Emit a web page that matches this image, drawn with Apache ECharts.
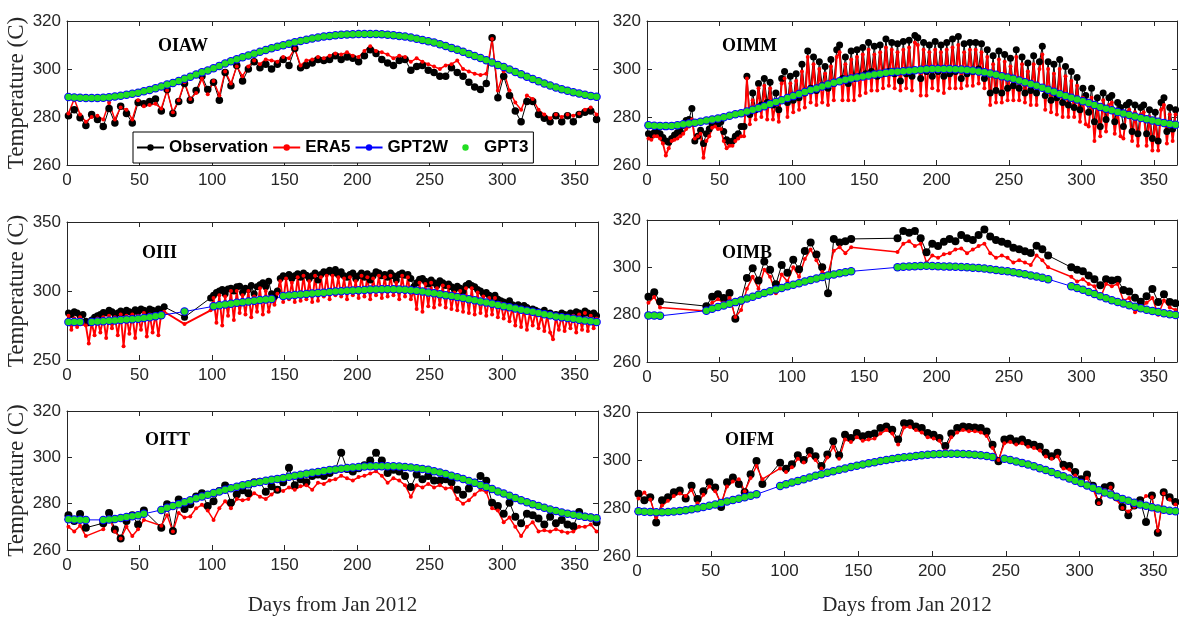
<!DOCTYPE html>
<html><head><meta charset="utf-8">
<script src="https://cdn.jsdelivr.net/npm/echarts@6/dist/echarts.min.js"></script>
<style>html,body{margin:0;padding:0;background:#fff}#c{width:1179px;height:619px}</style>
</head><body><div id="c"></div><script>
// ---- day grids (x values) ----
const days4 = []; for (let d = 1; d <= 365; d += 4) days4.push(d);
const days2 = []; for (let d = 1; d <= 365; d += 2) days2.push(d);
const xTickLabels = [0, 50, 100, 150, 200, 250, 300, 350];
const panelNames = ['OIAW', 'OIMM', 'OIII', 'OIMB', 'OITT', 'OIFM'];
const seriesNames = ['Observation', 'ERA5', 'GPT2W', 'GPT3'];

// ---- OIAW (days4) ----
const oiawObs = [
280.5,283,279.7,276.5,281,279,276,283.5,277.5,284.5,
281.5,277.5,286,285.5,286.5,287.5,282.5,291.5,281.5,286.5,
294,287,291,297,291.5,294.5,287,298.5,293,301.5,
295,300,303,300.5,302,300,302,304,301.5,308.5,
300.5,301.5,302.5,304,303.5,304,305.5,304,305,304.5,
303,305.5,308,306.5,304,302.5,301.5,303.5,304,299.5,
301,301.5,299.5,298.5,297,297,300.5,298.5,297,294.5,
292.5,291.5,294,313,288,297,289,282.5,278,286.5,
286.5,281,279.5,278,280.5,278,280.5,278,281,282,
282.5,279];
const oiawEra5 = [
281.5,287.5,281,278,280,280.5,279,286,279,284,
283,279,287,284.5,285,285.5,283.5,291,282,287,
294.5,287.5,290,296,289.5,295,289,299,294,301,
297,301,303.5,302,304,303.5,303,305,304.5,308.5,
301.5,303.5,304,305,304.5,305.5,306.5,306,307,305.5,
305,307.5,309.5,307.5,307,306,304.5,305.5,305,303,
304.5,303,302,301,300,301.5,302,303.5,300,299,
298,297.5,298,312.5,291,299,291,286,283,289,
287.5,283,281,279.5,281,280,281,280.5,281.5,283,
284,281];
const oiawGpt2w = [
288.3,288.1,288.0,287.9,287.9,287.9,288.0,288.2,288.5,288.9,
289.3,289.7,290.1,290.7,291.3,292.0,292.7,293.5,294.2,295.0,
295.9,296.8,297.7,298.6,299.4,300.3,301.3,302.3,303.2,304.1,
304.9,305.6,306.4,307.2,307.9,308.6,309.3,309.9,310.5,311.1,
311.7,312.2,312.7,313.1,313.5,313.8,314.1,314.3,314.4,314.5,
314.6,314.6,314.6,314.6,314.5,314.3,314.1,313.8,313.5,313.1,
312.6,312.1,311.6,311.0,310.3,309.6,308.8,308.0,307.2,306.3,
305.4,304.6,303.6,302.7,301.7,300.8,299.8,298.8,297.8,296.8,
295.8,294.9,294.0,293.1,292.3,291.6,290.9,290.3,289.8,289.3,
288.8,288.4];
const oiawGpt3 = [
288.3,288.1,288.0,287.9,287.9,287.9,288.0,288.2,288.5,288.9,
289.3,289.7,290.1,290.7,291.3,292.0,292.7,293.5,294.2,295.0,
295.9,296.8,297.7,298.6,299.4,300.3,301.3,302.3,303.2,304.1,
304.9,305.6,306.4,307.2,307.9,308.6,309.3,309.9,310.5,311.1,
311.7,312.2,312.7,313.1,313.5,313.8,314.1,314.3,314.4,314.5,
314.6,314.6,314.6,314.6,314.5,314.3,314.1,313.8,313.5,313.1,
312.6,312.1,311.6,311.0,310.3,309.6,308.8,308.0,307.2,306.3,
305.4,304.6,303.6,302.7,301.7,300.8,299.8,298.8,297.8,296.8,
295.8,294.9,294.0,293.1,292.3,291.6,290.9,290.3,289.8,289.3,
288.8,288.4];

// ---- OIMM (obs/era5 on days2, gpt on days4) ----
const oimmObs = [
273,272.5,273.5,274,273,271.5,270,269.5,271,272.5,
273.5,274,276.5,278.5,279,283.5,270,272,274.5,269,
273,275,277,278.5,277,278,274,270.5,269.5,270,
272,273,276,276,297,281,290,283,294,285,
296,286,294.5,285,290,283,296,299,286,297,
287,298,288,302,290,307.5,292,305,291,303,
293,301,292,304,294,308,310,296,305,294,
307.5,296,308,297,309,298,311,299,309.5,297,
310,298,312.5,299,311,298,310.5,295,311.5,298,
312,297,314,313,296,311,299,310,297,311.5,
299,310,297,311,298,312.5,299,313.5,296,310.5,
298,311,299,311,300,310.5,296,308,290,305.5,
291,307.5,290,306,292,304.5,293,308,292,305,
290,302.5,291,305.5,290,303,309.5,289,303,287,
302,288,304,286,301,285,299,284,296.5,283,
292,289,282,292,278,288,276,290,279,288,
289,278,286,284,276,285,286,274,285,273,
284,285,273,283,271,282,270,286,288,274,
284,275,283];
const oimmEra5 = [
271,270.5,272,272,271,269,264,267,270,270.5,
271,272,273,275,276,279,271,272,273,263,
270,272,275.5,276,275,275,270,267,268,268,
270,271,272,272,296,277,287,279,292,280,
293,279,292,279,287,278,294,296,280,294,
282,295,283,299,284,305,286,302,285,300,
286,298,285,301,287,305,307,287,302,287,
304,287,305,289,306,290,308,291,306,291,
307,292,309,293,308,292,307,291,308,292,
309,291,311,310,289,308,289,307,292,308,
291,307,290,308,292,309,292,310,292,307,
293,308,293,308,294,307,292,305,285,302,
286,304,286,303,287,301,287,305,287,302,
286,299,285,302,285,300,306,283,300,282,
298,281,300,280,297,280,295,280,293,278,
288,277,276,288,270,285,272,287,274,285,
286,273,283,272,271,282,283,270,282,268,
281,282,268,280,266,279,266,283,285,269,
281,270,281];
const oimmGpt2w = [
276.6,276.4,276.3,276.2,276.3,276.6,277.0,277.3,277.6,278.0,
278.5,279.0,279.4,279.9,280.5,281.1,281.6,282.3,283.0,283.7,
284.5,285.4,286.2,287.0,287.9,288.7,289.6,290.4,291.2,291.9,
292.7,293.5,294.3,294.9,295.5,296.0,296.5,296.9,297.3,297.7,
298.0,298.4,298.7,298.9,299.1,299.3,299.5,299.7,299.9,300.0,
300.0,300.0,300.0,299.9,299.8,299.6,299.4,299.0,298.6,298.1,
297.6,297.0,296.5,295.9,295.2,294.5,293.8,293.0,292.2,291.4,
290.5,289.6,288.8,288.0,287.3,286.6,285.8,285.0,284.2,283.4,
282.8,282.1,281.5,280.8,280.2,279.6,279.1,278.5,278.0,277.5,
277.1,276.8];
const oimmGpt3 = [
276.6,276.4,276.3,276.2,276.3,276.6,277.0,277.3,277.6,278.0,
278.5,279.0,279.4,279.9,280.5,281.1,281.6,282.3,283.0,283.7,
284.5,285.4,286.2,287.0,287.9,288.7,289.6,290.4,291.2,291.9,
292.7,293.5,294.3,294.9,295.5,296.0,296.5,296.9,297.3,297.7,
298.0,298.4,298.7,298.9,299.1,299.3,299.5,299.7,299.9,300.0,
300.0,300.0,300.0,299.9,299.8,299.6,299.4,299.0,298.6,298.1,
297.6,297.0,296.5,295.9,295.2,294.5,293.8,293.0,292.2,291.4,
290.5,289.6,288.8,288.0,287.3,286.6,285.8,285.0,284.2,283.4,
282.8,282.1,281.5,280.8,280.2,279.6,279.1,278.5,278.0,277.5,
277.1,276.8];

// ---- OIII (obs/era5 on days2, gpt on days4) ----
const oiiiObs = [
284,283,285,284,282,283,278,277,279,281,
282,283,284.5,284,286,285,283,284,285.5,284,
286,285,284,286.5,285,287,286,285,287,286,
285,287,286,288.5,null,null,null,null,null,null,
281,null,null,null,null,null,null,null,null,295,
297,299,300,301,298,301.5,302,300,303,303.5,
299,302,301,304,298,303,304.5,306,303,307,
298,296,300,309,311,310.5,312,309,311,312.5,
310,313,311.5,309,311,313,308,312,314,313.5,
315,313,315.5,312,314,311,310,312,313,309,
311,313,310,312.5,308,311,314,313,311,312,
310,313,311,308,312,313,311.5,312,309,303,
306,308.5,309,307,305,308,306,304,307.5,306,
304,305,303,301,303.5,302,300,304,305.5,304,
303,301,300,298,299,297,296,297,294,293,
292,291,293,290,289,290,288,289.5,288,286,
287,286,285,284,286,283,284,282.5,283,282,
284,283,282.5,284,283,285,284,283,285.5,284,
283,284,282];
const oiiiEra5 = [
282,272,280,274,281,276,275,262,277,268,
280,270,281,266,282,273,281,268,283,260,
282,269,283,266,282,272,284,267,283,270,
283,268,284,285,null,null,null,null,null,null,
276,null,null,null,null,null,null,null,null,286,
295,277,297,275,296,282,300,279,300,284,
297,283,300,281,296,285,302,283,300,285,
294,290,298,307,292,309,294,306,292,310,
293,311,294,307,292,311,293,310,296,311,
294,311,297,310,296,309,294,310,297,307,
295,311,296,310,294,309,297,311,295,310,
296,311,297,306,294,311,296,310,294,300,
287,306,285,305,289,306,288,302,290,304,
288,303,287,299,286,300,285,302,284,302,
283,299,284,296,282,295,283,295,281,291,
280,289,278,288,275,287,274,287,272,284,
275,285,273,282,271,282,270,265,281,272,
282,271,281,273,282,270,283,272,284,271,
282,273,280];
const oiiiGpt2w = [
277.6,277.6,277.6,null,277.6,277.9,278.1,278.4,278.7,279.0,
279.3,279.6,279.9,280.4,281.0,281.7,282.4,null,null,null,
285.1,null,null,null,null,288.9,289.6,290.2,290.8,291.4,
291.9,292.4,292.9,293.4,293.8,294.2,null,296.3,296.7,297.1,
297.5,297.9,298.2,298.5,298.8,299.2,299.6,299.9,300.2,300.4,
300.6,300.8,301.0,301.1,301.2,301.2,301.2,301.1,300.9,300.6,
300.2,299.6,299.0,298.4,297.7,297.0,296.3,295.6,294.9,294.1,
293.3,292.4,291.6,290.7,289.9,289.0,288.2,287.4,286.5,285.7,
284.9,284.0,283.2,282.4,281.6,281.0,280.4,279.9,279.2,278.6,
278.0,277.5];
const oiiiGpt3 = [
277.6,277.6,277.6,null,277.6,277.9,278.1,278.4,278.7,279.0,
279.3,279.6,279.9,280.4,281.0,281.7,282.4,null,null,null,
285.1,null,null,null,null,288.9,289.6,290.2,290.8,291.4,
291.9,292.4,292.9,293.4,293.8,294.2,null,296.3,296.7,297.1,
297.5,297.9,298.2,298.5,298.8,299.2,299.6,299.9,300.2,300.4,
300.6,300.8,301.0,301.1,301.2,301.2,301.2,301.1,300.9,300.6,
300.2,299.6,299.0,298.4,297.7,297.0,296.3,295.6,294.9,294.1,
293.3,292.4,291.6,290.7,289.9,289.0,288.2,287.4,286.5,285.7,
284.9,284.0,283.2,282.4,281.6,281.0,280.4,279.9,279.2,278.6,
278.0,277.5];

// ---- OIMB (days4) ----
const oimbObs = [
287.6,289.5,285.6,null,null,null,null,null,null,null,
283.6,287.6,288.6,287,289.2,278.3,286,295.5,299.6,294.4,
302.5,299,292.8,301,297.7,303.2,299.2,306.9,310.5,305.4,
300,289,312,310.5,311,312,null,null,null,null,
null,null,null,312.3,315.3,314.6,315.3,312.3,306.4,310,
309,310.8,312,311,313.7,312.3,311.5,313.7,316,313,
311.5,310.8,310,308.3,307.6,306.8,306.1,309.1,307.6,305,
null,null,null,300,299,298.3,296.5,295,292.4,295,
294.4,294.8,290.4,289.8,287.2,285.5,287.8,290.8,285.4,288.6,
285.4,284.8];
const oimbEra5 = [
285,287.5,283,null,null,null,null,null,null,null,
281.5,285,286.5,285,287,279,282,291,296,291,
299,296,289,297,294,300,296,303.5,307.5,303,
298,297,307,308.5,306,308.5,null,null,null,null,
null,null,null,306.5,310,311,309,310,302,305,
304,305.5,306,307.5,308,306,307.5,309,310,306,
304,305,304,302,303,302,301,305,303,300,
null,null,null,296,294,295,293,292,287,293,
292,293,286,287,281,283,285,287,280,286,
283,282];
const oimbGpt2w = [
279.7,279.6,279.5,null,null,null,null,null,null,null,
281.7,282.5,283.2,283.9,284.6,285.3,286.0,286.8,287.6,288.4,
289.2,289.9,290.6,291.3,292.0,292.6,293.3,294.0,294.7,295.3,
295.9,296.5,297.0,297.5,297.9,298.3,null,null,null,null,
null,null,null,300.0,300.2,300.4,300.5,300.6,300.7,300.6,
300.5,300.4,300.3,300.2,300.1,300.0,299.8,299.7,299.5,299.2,
298.9,298.6,298.3,297.9,297.5,297.1,296.6,296.1,295.6,295.0,
null,null,null,292.0,291.3,290.5,289.6,288.7,287.8,286.9,
286.1,285.4,284.7,284.0,283.3,282.7,282.1,281.6,281.1,280.6,
280.2,279.9];
const oimbGpt3 = [
279.7,279.6,279.5,null,null,null,null,null,null,null,
281.7,282.5,283.2,283.9,284.6,285.3,286.0,286.8,287.6,288.4,
289.2,289.9,290.6,291.3,292.0,292.6,293.3,294.0,294.7,295.3,
295.9,296.5,297.0,297.5,297.9,298.3,null,null,null,null,
null,null,null,300.0,300.2,300.4,300.5,300.6,300.7,300.6,
300.5,300.4,300.3,300.2,300.1,300.0,299.8,299.7,299.5,299.2,
298.9,298.6,298.3,297.9,297.5,297.1,296.6,296.1,295.6,295.0,
null,null,null,292.0,291.3,290.5,289.6,288.7,287.8,286.9,
286.1,285.4,284.7,284.0,283.3,282.7,282.1,281.6,281.1,280.6,
280.2,279.9];

// ---- OITT (days4) ----
const oittObs = [
275,272.5,275.5,269.6,null,null,271.6,276,268.9,265,
272.5,275,271,277,null,null,269.6,279.7,268.2,281.8,
277.7,279.7,283.1,284.5,279,281,285.5,287.8,280.4,284,
285.8,284.5,289.2,289.5,285.1,287.5,286,289.2,295.5,288,
290.5,289.2,291.9,292.6,291.9,293.2,294.6,302,295,293.9,
295.3,296.6,298.6,302,298.6,293.2,294.6,293.9,291.9,287.2,
292.6,290.5,291.9,290,289.9,290.5,289.2,286,283.8,286.5,
289,291.9,289.9,280.4,279,275.7,280.4,274.3,271.6,275.7,
275,273.6,271,274.3,271.6,273,271,270.3,276.4,274.3,
274,272];
const oittEra5 = [
270,268,270.5,266,null,null,269,274,268,265,
270,266,269,273,null,null,270.5,275,268,276,
274,274.5,278,279.5,277,273,278,281,278,282,
281.5,282,284.5,283,282,284,286,285.5,287,286,
287.5,288,286,289,288.5,290,290.5,292,291,290,
291.5,292,293,294,292,289,291,290,288,283,
288,287,288.5,287,288,286.5,287,282,280,281.5,
284,286,285,278,277,272,274,270,266,270,
272,268,268.5,268,269,268,267.5,268,270,270,
271,268];
const oittGpt2w = [
273.3,273.2,273.1,273.0,null,null,273.0,273.2,273.4,273.8,
274.2,274.6,275.0,275.6,null,null,277.3,278.2,279.0,279.8,
280.6,281.5,282.3,283.1,283.9,284.6,285.3,286.0,286.7,287.3,
287.9,288.4,288.9,289.4,289.9,290.3,290.7,291.1,291.6,292.0,
292.5,292.9,293.3,293.7,294.1,294.5,294.8,295.1,295.4,295.6,
295.8,296.0,296.1,296.2,296.2,296.2,296.1,296.0,295.8,295.6,
295.3,295.0,294.6,294.0,293.4,292.8,292.1,291.4,290.6,289.8,
289.0,288.1,287.2,286.3,285.3,284.4,283.4,282.5,281.5,280.6,
279.8,279.0,278.2,277.5,276.8,276.2,275.7,275.2,274.8,274.4,
274.0,273.7];
const oittGpt3 = [
273.3,273.2,273.1,273.0,null,null,273.0,273.2,273.4,273.8,
274.2,274.6,275.0,275.6,null,null,277.3,278.2,279.0,279.8,
280.6,281.5,282.3,283.1,283.9,284.6,285.3,286.0,286.7,287.3,
287.9,288.4,288.9,289.4,289.9,290.3,290.7,291.1,291.6,292.0,
292.5,292.9,293.3,293.7,294.1,294.5,294.8,295.1,295.4,295.6,
295.8,296.0,296.1,296.2,296.2,296.2,296.1,296.0,295.8,295.6,
295.3,295.0,294.6,294.0,293.4,292.8,292.1,291.4,290.6,289.8,
289.0,288.1,287.2,286.3,285.3,284.4,283.4,282.5,281.5,280.6,
279.8,279.0,278.2,277.5,276.8,276.2,275.7,275.2,274.8,274.4,
274.0,273.7];

// ---- OIFM (days4) ----
const oifmObs = [
285.9,283.2,284.5,274,283.2,284.5,286.6,287.3,284,289.3,
283.8,287,290.7,288.5,280.4,290.7,292.7,290,286.6,294.1,
299.6,290,null,null,298.9,296.4,298.2,302,300,303.7,
301.6,297.5,302.3,307.8,302,310.5,309.2,311.2,309.9,310.5,
311,313.3,314,312.6,308.5,315.3,315.3,314,313.3,311.2,
310.5,309.2,305.8,311,313.3,314,313.8,313.5,313.3,311.9,
306.4,299.5,308.5,309,307.8,308.5,307.1,306.4,305.5,303,
301.6,303,298,297.5,295,292,294,289.3,282.5,288.6,
289.3,284.5,280.4,277,281,283.2,274.2,285.2,269.7,286.6,
284.5,282.5];
const oifmEra5 = [
284,286.5,283.5,276,281,283,285,286,285,287.5,
282,285.5,289,287,282,289,291,292,287,292.5,
297.5,292,null,null,296.5,295,297,300.5,299,302,
300,296.5,301,305.5,300.5,308.5,307.5,309.5,308,308.5,
309,311,312.5,311,306.5,313.5,313.8,312.5,311.5,309.5,
309,308,304,309.5,311.5,312.5,312,312,311.5,310,
305,300,307,307.5,306.5,307,305.5,305,304,301.5,
300.5,301.5,296.5,296,293.5,291,292.5,288,282,287.5,
288.5,283.5,280,278.5,280.5,282.5,285,284.5,270.5,286,
283.5,281.5];
const oifmGpt2w = [
278.6,278.4,278.3,278.2,278.2,278.3,278.5,278.8,279.1,279.5,
279.9,280.4,280.9,281.5,282.1,282.7,283.3,283.9,284.5,285.1,
285.7,null,null,null,289.2,289.9,290.6,291.3,292.0,292.7,
293.4,294.1,294.7,295.3,295.9,296.5,297.1,297.6,298.1,298.6,
299.1,299.6,300.0,300.4,300.8,301.1,301.4,301.7,302.0,302.2,
302.4,302.5,302.6,302.6,302.6,302.5,302.4,302.2,302.0,301.7,
301.3,null,300.5,300.0,299.4,298.8,298.1,297.4,296.6,295.8,
295.0,294.1,293.2,292.3,291.4,290.4,289.4,288.4,287.4,286.5,
285.6,284.7,283.8,283.0,282.2,281.5,280.9,280.3,279.8,279.3,
278.9,278.6];
const oifmGpt3 = [
278.6,278.4,278.3,278.2,278.2,278.3,278.5,278.8,279.1,279.5,
279.9,280.4,280.9,281.5,282.1,282.7,283.3,283.9,284.5,285.1,
285.7,null,null,null,289.2,289.9,290.6,291.3,292.0,292.7,
293.4,294.1,294.7,295.3,295.9,296.5,297.1,297.6,298.1,298.6,
299.1,299.6,300.0,300.4,300.8,301.1,301.4,301.7,302.0,302.2,
302.4,302.5,302.6,302.6,302.6,302.5,302.4,302.2,302.0,301.7,
301.3,null,300.5,300.0,299.4,298.8,298.1,297.4,296.6,295.8,
295.0,294.1,293.2,292.3,291.4,290.4,289.4,288.4,287.4,286.5,
285.6,284.7,283.8,283.0,282.2,281.5,280.9,280.3,279.8,279.3,
278.9,278.6];

// ---- layout (positions & styles only) ----
const AX = '#262626';
const layout = [
  {grid:{left:67, top:21, width:531, height:144}, y:[260,320,20], tl:[158,37], yName:true, xName:false, obsSize:7.5, eraW:1.5, xGap:40},
  {grid:{left:647,top:21, width:530, height:144}, y:[260,320,20], tl:[722,37], yName:false,xName:false, obsSize:7, eraW:1.9, xGap:40},
  {grid:{left:67, top:222,width:531, height:138}, y:[250,350,50], tl:[142,244], yName:true, xName:false, obsSize:7, eraW:1.9, xGap:40},
  {grid:{left:647,top:220,width:530, height:142}, y:[260,320,20], tl:[722,244], yName:false,xName:false, obsSize:8, eraW:1.5, xGap:40},
  {grid:{left:67, top:411,width:531, height:139}, y:[260,320,20], tl:[145,431], yName:true, xName:true, obsSize:8, eraW:1.5, xGap:45},
  {grid:{left:637,top:412,width:540, height:144}, y:[260,320,20], tl:[725,431], yName:false,xName:true, obsSize:8, eraW:1.5, xGap:39}
];
const data = [
  [oiawObs,oiawEra5,oiawGpt2w,oiawGpt3, days4],
  [oimmObs,oimmEra5,oimmGpt2w,oimmGpt3, days2],
  [oiiiObs,oiiiEra5,oiiiGpt2w,oiiiGpt3, days2],
  [oimbObs,oimbEra5,oimbGpt2w,oimbGpt3, days4],
  [oittObs,oittEra5,oittGpt2w,oittGpt3, days4],
  [oifmObs,oifmEra5,oifmGpt2w,oifmGpt3, days4]
];
function pts(days, vals) {
  const out = [];
  for (let i = 0; i < days.length && i < vals.length; i++) if (vals[i] !== null) out.push([days[i], vals[i]]);
  return out;
}
const SANS = '"Liberation Sans", Arial, sans-serif';
const SERIF = '"Liberation Serif", "Times New Roman", serif';
const grids = [], xAxes = [], yAxes = [], series = [], titles = [];
layout.forEach((L, i) => {
  grids.push(Object.assign({containLabel:false, outerBoundsMode:'none'}, L.grid));
  const tick = {show:true, inside:true, length:5, lineStyle:{color:AX, width:1}};
  const line = {show:true, onZero:false, lineStyle:{color:AX, width:1}};
  xAxes.push({type:'value', gridIndex:i, min:0, max:366, interval:50, position:'bottom',
    axisLine:line, axisTick:tick, splitLine:{show:false},
    axisLabel:{show:true, color:AX, fontSize:17, fontFamily:SANS, margin:7, showMaxLabel:false},
    name: L.xName ? 'Days from Jan 2012' : '', nameLocation:'middle', nameGap: L.xGap,
    nameTextStyle:{fontFamily:SERIF, fontSize:21, color:AX}});
  xAxes.push({type:'value', gridIndex:i, min:0, max:366, interval:50, position:'top',
    axisLine:line, axisTick:tick, splitLine:{show:false}, axisLabel:{show:false}});
  yAxes.push({type:'value', gridIndex:i, min:L.y[0], max:L.y[1], interval:L.y[2], position:'left',
    axisLine:line, axisTick:tick, splitLine:{show:false},
    axisLabel:{show:true, color:AX, fontSize:17, fontFamily:SANS, margin:6},
    name: L.yName ? 'Temperature (C)' : '', nameLocation:'middle', nameGap:37, nameRotate:90,
    nameTextStyle:{fontFamily:SERIF, fontSize:23, color:AX}});
  yAxes.push({type:'value', gridIndex:i, min:L.y[0], max:L.y[1], interval:L.y[2], position:'right',
    axisLine:line, axisTick:tick, splitLine:{show:false}, axisLabel:{show:false}});
  titles.push({text:panelNames[i], left:L.tl[0], top:L.tl[1], padding:0,
    textStyle:{fontFamily:SERIF, fontWeight:'bold', fontSize:18, color:'#000'}});
  const D = data[i];
  const common = {type:'line', xAxisIndex:2*i, yAxisIndex:2*i, connectNulls:true, symbol:'circle',
    animation:false, silent:true, clip:true};
  series.push(Object.assign({}, common, {name:seriesNames[0], data:pts(D[4], D[0]),
    symbolSize: L.obsSize, itemStyle:{color:'#000'}, lineStyle:{color:'#000', width:1}}));
  series.push(Object.assign({}, common, {name:seriesNames[1], data:pts(D[4], D[1]),
    symbolSize: 4, itemStyle:{color:'#ff0000'}, lineStyle:{color:'#ff0000', width:L.eraW}}));
  series.push(Object.assign({}, common, {name:seriesNames[2], data:pts(days4, D[2]),
    symbolSize: 8.5, itemStyle:{color:'#0000ff'}, lineStyle:{color:'#0000ff', width:1}}));
  series.push(Object.assign({}, common, {name:seriesNames[3], data:pts(days4, D[3]),
    symbolSize: 6.5, itemStyle:{color:'#22dd22'}, lineStyle:{width:0, opacity:0}}));
});
const chart = echarts.init(document.getElementById('c'), null, {renderer:'canvas'});
chart.setOption({
  animation:false,
  backgroundColor:'#ffffff',
  title: titles,
  grid: grids, xAxis: xAxes, yAxis: yAxes, series: series,
  legend: {show:true, data:seriesNames, left:133, top:132, orient:'horizontal',
    backgroundColor:'#ffffff', borderColor:'#000', borderWidth:1, borderRadius:0,
    padding:[7,5,7,3], itemGap:4, itemWidth:27, itemHeight:8, selectedMode:false,
    textStyle:{fontFamily:SANS, fontWeight:'bold', fontSize:17, color:'#000'}}
});
</script></body></html>
